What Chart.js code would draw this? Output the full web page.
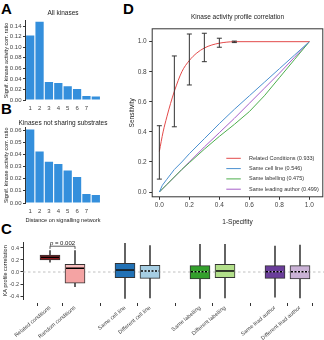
<!DOCTYPE html>
<html>
<head>
<meta charset="utf-8">
<script src="https://cdn.jsdelivr.net/npm/chart.js"></script>
<style>
  body { margin: 0; width: 324px; height: 340px; background: #fff; position: relative; overflow: hidden; font-family: "Liberation Sans", Arial, sans-serif; }
  canvas { position: absolute; }
  .tag { position: absolute; font-weight: bold; font-size: 15px; line-height: 15px; color: #000; }
</style>
</head>
<body>
<div class="tag" style="left:1px;top:1px">A</div>
<div class="tag" style="left:1px;top:101px">B</div>
<div class="tag" style="left:1px;top:221px">C</div>
<div class="tag" style="left:123px;top:1px">D</div>

<canvas id="chartA" width="110" height="114" style="left:0;top:0"></canvas>
<canvas id="chartB" width="110" height="111" style="left:0;top:115px"></canvas>
<canvas id="chartD" width="206" height="232" style="left:118px;top:0"></canvas>
<canvas id="chartC" width="324" height="112" style="left:0;top:228px"></canvas>

<script>
// ---- panel A / B : ratio by network distance ----
var distLabels = ['1', '2', '3', '4', '5', '6', '7', ''];
var ratioAll = [0.122, 0.148, 0.034, 0.032, 0.026, 0.021, 0.0075, 0.0065];
var ratioNoShared = [0.0605, 0.0423, 0.034, 0.032, 0.0267, 0.0213, 0.0074, 0.0065];
var ticksA = [0, 0.02, 0.04, 0.06, 0.08, 0.10, 0.12, 0.14];
var ticksB = [0, 0.01, 0.02, 0.03, 0.04, 0.05, 0.06];

// ---- panel C : box plots ----
var groupNames = ['Related conditions', 'Random conditions', 'Same cell line', 'Different cell line',
                  'Same labelling', 'Different labelling', 'Same lead author', 'Different lead author'];
var groupPos = [1, 2, 4, 5, 7, 8, 10, 11];
var boxQ1 = [0.2, -0.188, -0.095, -0.105, -0.117, -0.095, -0.105, -0.117];
var boxQ3 = [0.283, 0.128, 0.145, 0.112, 0.105, 0.128, 0.105, 0.105];
var boxMedian = [0.245, 0.062, 0.033, 0.017, 0.005, 0.017, 0.005, 0.005];
var boxMean = [0.245, 0.1, 0.033, 0.017, 0.005, 0.017, 0.005, 0.005];
var whiskerLow = [0.162, -0.245, -0.44, -0.43, -0.44, -0.43, -0.42, -0.43];
var whiskerHigh = [0.355, 0.355, 0.478, 0.44, 0.46, 0.46, 0.43, 0.45];
var medianDashed = [false, false, false, true, true, false, true, true];
var ticksC = [-0.4, -0.2, 0, 0.2, 0.4];

// ---- panel D : ROC curves ----
var fprRelated = [0, 0.025, 0.05, 0.075, 0.1, 0.15, 0.2, 0.25, 0.3, 0.35, 0.4, 0.45, 0.5, 1];
var tprRelated = [0.27, 0.4, 0.5, 0.59, 0.67, 0.8, 0.875, 0.925, 0.958, 0.978, 0.99, 0.997, 1, 1];
var fprGrid = [0, 0.02, 0.05, 0.1, 0.15, 0.2, 0.3, 0.4, 0.5, 0.6, 0.7, 0.8, 0.9, 1];
var tprCellLine = [0, 0.045, 0.085, 0.15, 0.2, 0.255, 0.355, 0.455, 0.55, 0.64, 0.73, 0.82, 0.91, 1];
var tprLabelling = [0, 0.02, 0.05, 0.1, 0.15, 0.195, 0.285, 0.37, 0.45, 0.535, 0.64, 0.76, 0.88, 1];
var tprAuthor = [0, 0.02, 0.05, 0.1, 0.15, 0.2, 0.3, 0.395, 0.49, 0.59, 0.69, 0.79, 0.895, 1];
var errX = [0, 0.1, 0.2, 0.3, 0.4, 0.5];
var errLow = [0.086, 0.434, 0.712, 0.867, 0.963, 0.994];
var errHigh = [0.441, 0.905, 1.051, 1.056, 1.023, 1.004];
var ticksD = [0, 0.2, 0.4, 0.6, 0.8, 1.0];

Chart.defaults.font.family = '"Liberation Sans", Arial, sans-serif';
Chart.defaults.color = '#444';
Chart.defaults.animation = false;
Chart.defaults.plugins.legend.display = false;
Chart.defaults.plugins.tooltip.enabled = false;

function setTicks(list) {
  return function (scale) { scale.ticks = list.map(function (v) { return { value: v }; }); };
}
function pair(xs, ys) {
  return xs.map(function (x, i) { return { x: x, y: ys[i] }; });
}

// title centred over the plot area, like ggplot does
var panelTitle = {
  id: 'panelTitle',
  afterDraw: function (chart, args, opts) {
    var ctx = chart.ctx, area = chart.chartArea;
    ctx.save();
    ctx.font = opts.size + 'px "Liberation Sans"';
    ctx.fillStyle = '#222';
    ctx.textAlign = 'center';
    ctx.textBaseline = 'middle';
    ctx.fillText(opts.text, (area.left + area.right) / 2, opts.y);
    ctx.restore();
  }
};

function barPanel(id, title, titleY, top, values, ticks, ymax, xHeight, xTitle) {
  return new Chart(document.getElementById(id), {
    type: 'bar',
    data: {
      labels: distLabels,
      datasets: [{ data: values, backgroundColor: '#348fdc', barPercentage: 0.88, categoryPercentage: 1 }]
    },
    options: {
      responsive: false,
      layout: { padding: { left: 0, right: 9.5, top: top, bottom: 0 } },
      plugins: { panelTitle: { text: title, y: titleY, size: 6.5 } },
      scales: {
        y: {
          min: 0, max: ymax,
          afterBuildTicks: setTicks(ticks),
          afterFit: function (s) { s.width = 25.5; },
          ticks: { font: { size: 6 }, padding: 1.5, callback: function (v) { return v.toFixed(2); } },
          grid: { drawOnChartArea: false, tickLength: 2.5, tickColor: '#333' },
          border: { color: '#333' },
          title: { display: true, text: 'Signif. kinase activity corr. ratio', color: '#222', font: { size: 5.5 }, padding: { top: 2.7, bottom: 0 } }
        },
        x: {
          afterFit: function (s) { s.height = xHeight; },
          grid: { display: false, drawTicks: false },
          border: { display: false },
          ticks: { font: { size: 6 }, padding: 4.5, maxRotation: 0 },
          title: { display: !!xTitle, text: xTitle || '', color: '#222', font: { size: 6 }, padding: { top: 0, bottom: 2.4 } }
        }
      }
    },
    plugins: [panelTitle]
  });
}

barPanel('chartA', 'All kinases', 13, 20.8, ratioAll, ticksA, 0.15, 14, null);
barPanel('chartB', 'Kinases not sharing substrates', 8.3, 12.6, ratioNoShared, ticksB, 0.062, 23,
         'Distance on signalling network');

// ---- panel C ----
var boxColors = ['#971b1e', '#f4a3a3', '#2171b5', '#a6cee3', '#33a02c', '#b2df8a', '#6a3d9a', '#cab2d6'];

var boxExtras = {
  id: 'boxExtras',
  beforeDatasetsDraw: function (chart) {
    var ctx = chart.ctx, area = chart.chartArea, y0 = chart.scales.y.getPixelForValue(0);
    ctx.save();
    ctx.strokeStyle = '#b0b0b0';
    ctx.lineWidth = 0.8;
    ctx.setLineDash([2.5, 2.5]);
    ctx.beginPath(); ctx.moveTo(area.left, y0); ctx.lineTo(area.right, y0); ctx.stroke();
    ctx.restore();
  },
  afterDatasetsDraw: function (chart) {
    var ctx = chart.ctx, xs = chart.scales.x, ys = chart.scales.y;
    ctx.save();
    groupPos.forEach(function (p, i) {
      var px = xs.getPixelForValue(p);
      var pm = ys.getPixelForValue(boxMean[i]);
      ctx.setLineDash([]);
      ctx.strokeStyle = 'rgba(255,255,255,0.6)';
      ctx.lineWidth = 1;
      ctx.beginPath(); ctx.moveTo(px - 9, pm); ctx.lineTo(px + 9, pm); ctx.stroke();
      var py = ys.getPixelForValue(boxMedian[i]);
      ctx.strokeStyle = '#000';
      ctx.lineWidth = 1.5;
      if (medianDashed[i]) ctx.setLineDash([2, 1.5]);
      ctx.beginPath(); ctx.moveTo(px - 9, py); ctx.lineTo(px + 9, py); ctx.stroke();
    });
    // significance bracket
    var x1 = xs.getPixelForValue(groupPos[0]), x2 = xs.getPixelForValue(groupPos[1]);
    var yb = ys.getPixelForValue(0.43), yt = ys.getPixelForValue(0.385);
    ctx.setLineDash([]);
    ctx.strokeStyle = '#333';
    ctx.lineWidth = 0.8;
    ctx.beginPath();
    ctx.moveTo(x1, yt); ctx.lineTo(x1, yb); ctx.lineTo(x2, yb); ctx.lineTo(x2, yt);
    ctx.stroke();
    var yText = ys.getPixelForValue(0.485);
    ctx.fillStyle = '#222';
    ctx.textBaseline = 'middle';
    ctx.font = 'italic 6px "Liberation Sans"';
    var wp = ctx.measureText('p').width;
    ctx.font = '6px "Liberation Sans"';
    var rest = ' = 0.002';
    var wr = ctx.measureText(rest).width;
    var start = (x1 + x2) / 2 - (wp + wr) / 2;
    ctx.font = 'italic 6px "Liberation Sans"';
    ctx.fillText('p', start, yText);
    ctx.font = '6px "Liberation Sans"';
    ctx.fillText(rest, start + wp, yText);
    ctx.restore();
  }
};

new Chart(document.getElementById('chartC'), {
  type: 'bar',
  data: {
    datasets: [
      {
        data: groupPos.map(function (p, i) { return { x: p, y: [whiskerLow[i], whiskerHigh[i]] }; }),
        backgroundColor: '#444', barThickness: 1, grouped: false, order: 2
      },
      {
        data: groupPos.map(function (p, i) { return { x: p, y: [boxQ1[i], boxQ3[i]] }; }),
        backgroundColor: boxColors, borderColor: '#333', borderWidth: 1, borderSkipped: false,
        barThickness: 20, grouped: false, order: 1
      }
    ]
  },
  options: {
    responsive: false,
    layout: { padding: { left: 0, right: 0, top: 14.6, bottom: 0 } },
    scales: {
      x: {
        type: 'linear', min: -0.08, max: 11.96, offset: false,
        afterBuildTicks: setTicks(groupPos),
        afterFit: function (s) { s.height = 41; },
        border: { display: false },
        grid: { drawOnChartArea: false, tickLength: 7, tickColor: '#333', tickBorderDash: [0, 4, 3, 100] },
        ticks: {
          font: { size: 5.5 }, padding: -1.5, autoSkip: false, minRotation: 40, maxRotation: 40,
          callback: function (v) { var k = groupPos.indexOf(v); return k < 0 ? '' : groupNames[k]; }
        }
      },
      y: {
        min: -0.45, max: 0.49,
        afterBuildTicks: setTicks(ticksC),
        afterFit: function (s) { s.width = 23; },
        ticks: { font: { size: 5.5 }, padding: 1.5, callback: function (v) { return v.toFixed(1); } },
        grid: { drawOnChartArea: false, tickLength: 2.5, tickColor: '#333' },
        border: { color: '#333' },
        title: { display: true, text: 'KA profile correlation', color: '#222', font: { size: 5.5 }, padding: { top: 1.7, bottom: 0 } }
      }
    }
  },
  plugins: [boxExtras]
});

// ---- panel D ----
var rocExtras = {
  id: 'rocExtras',
  afterDatasetsDraw: function (chart) {
    var ctx = chart.ctx, xs = chart.scales.x, ys = chart.scales.y, area = chart.chartArea;
    ctx.save();
    ctx.strokeStyle = '#333';
    ctx.lineWidth = 1;
    errX.forEach(function (v, i) {
      var px = xs.getPixelForValue(v);
      var lo = ys.getPixelForValue(errLow[i]), hi = ys.getPixelForValue(errHigh[i]);
      ctx.beginPath();
      ctx.moveTo(px, lo); ctx.lineTo(px, hi);
      ctx.moveTo(px - 2.5, lo); ctx.lineTo(px + 2.5, lo);
      ctx.moveTo(px - 2.5, hi); ctx.lineTo(px + 2.5, hi);
      ctx.stroke();
    });
    // panel frame
    ctx.strokeRect(area.left + 0.5, area.top + 0.5, area.right - area.left - 1, area.bottom - area.top - 1);
    // legend inside the panel
    ctx.font = '5.5px "Liberation Sans"';
    ctx.textBaseline = 'middle';
    ctx.fillStyle = '#333';
    chart.data.datasets.forEach(function (ds, i) {
      var y = area.bottom - 39 + i * 10.3;
      ctx.strokeStyle = ds.borderColor;
      ctx.beginPath(); ctx.moveTo(area.right - 97, y); ctx.lineTo(area.right - 82.5, y); ctx.stroke();
      ctx.fillText(ds.label, area.right - 74.3, y);
    });
    ctx.restore();
  }
};

function rocLine(label, color, pts, order) {
  return { label: label, data: pts, borderColor: color, borderWidth: 1, pointRadius: 0,
           showLine: true, fill: false, order: order };
}

new Chart(document.getElementById('chartD'), {
  type: 'scatter',
  data: {
    datasets: [
      Object.assign(rocLine('Related Conditions (0.933)', '#e34a4a', pair(fprRelated, tprRelated), 0), { cubicInterpolationMode: 'monotone' }),
      rocLine('Same cell line (0.546)', '#4a90d0', pair(fprGrid, tprCellLine), 1),
      rocLine('Same labelling (0.475)', '#4cae4c', pair(fprGrid, tprLabelling), 2),
      rocLine('Same leading author (0.499)', '#a65dc9', pair(fprGrid, tprAuthor), 3)
    ]
  },
  options: {
    responsive: false,
    layout: { padding: { left: 0, right: 0.7, top: 28.3, bottom: 0 } },
    plugins: { panelTitle: { text: 'Kinase activity profile correlation', y: 17, size: 6.5 } },
    scales: {
      x: {
        type: 'linear', min: -0.051, max: 1.093,
        afterBuildTicks: setTicks(ticksD),
        afterFit: function (s) { s.height = 34.7; },
        border: { display: false },
        grid: { drawOnChartArea: false, tickLength: 2.5, tickColor: '#333' },
        ticks: { font: { size: 6.5 }, padding: 2, callback: function (v) { return v.toFixed(1); } },
        title: { display: true, text: '1-Specifity', color: '#222', font: { size: 6.5 }, padding: { top: 0, bottom: 5.8 } }
      },
      y: {
        min: -0.035, max: 1.089,
        afterBuildTicks: setTicks(ticksD),
        afterFit: function (s) { s.width = 33.7; },
        border: { display: false },
        grid: { drawOnChartArea: false, tickLength: 2.5, tickColor: '#333' },
        ticks: { font: { size: 6.5 }, padding: 2.5, callback: function (v) { return v.toFixed(1); } },
        title: { display: true, text: 'Sensitivity', color: '#222', font: { size: 6.5 }, padding: { top: 10.1, bottom: 0 } }
      }
    }
  },
  plugins: [rocExtras, panelTitle]
});
</script>
</body>
</html>
